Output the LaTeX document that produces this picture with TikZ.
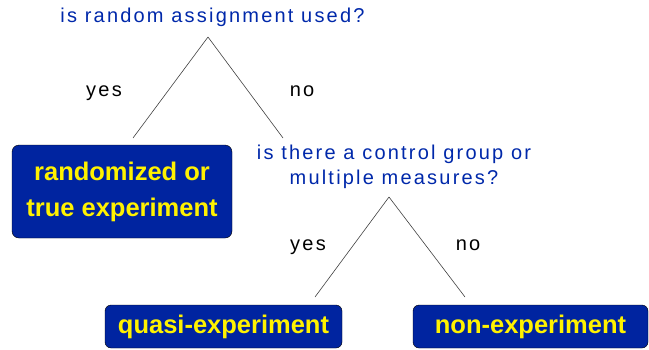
\documentclass[tikz,border=0pt]{standalone}
\usepackage{fontspec}
\setmainfont{Liberation Sans}
\newfontfamily\askfont[LetterSpace=11]{Liberation Sans}
\usetikzlibrary{positioning}
\definecolor{boxblue}{RGB}{0,36,160}
\definecolor{askblue}{RGB}{0,40,170}
\tikzset{
    question/.style={
        text=askblue,align=center,inner sep=0pt,
        font=\askfont\fontsize{20}{25}\selectfont
    },
    answer/.style={inner sep=0pt,anchor=base,font=\askfont\fontsize{20}{25}\selectfont},
    design box/.style={
        draw=black,thin,rounded corners=7pt,
        fill=boxblue,text=yellow,align=center,inner sep=0pt,
        font=\bfseries\fontsize{25.5}{36}\selectfont
    },
    branch/.style={black!75,line width=0.6pt}
}

\begin{document}
\begin{tikzpicture}[x=1pt,y=-1pt]
\useasboundingbox (0,0) rectangle (649,349);
% questions
\node[question] (q1) at (212.5,17) {is random assignment used?};
\node[question] (q2) at (394,167) {is there a control group or\\multiple measures?};
% outcomes
\node[design box,minimum width=220pt,minimum height=93pt] (true) at (122,191.5) {randomized or\\true experiment};
\node[design box,minimum width=237pt,minimum height=43pt,rounded corners=6pt] (quasi) at (223.5,326.5) {quasi-experiment};
\node[design box,minimum width=235pt,minimum height=43pt,rounded corners=6pt] (non) at (530.5,326.5) {non-experiment};
\foreach \n/\x/\y/\txt in {yes1/104/96.5/yes,no1/302/96.5/no,yes2/308/250.5/yes,no2/468/250.5/no}
    \node[answer] (\n) at (\x,\y) {\txt};
% branches
\coordinate (tip1) at (208,37);
\coordinate (tip2) at (389,197);
\coordinate (to true) at (133,138);
\coordinate (to q2) at (283,138);
\coordinate (to quasi) at (315,297);
\coordinate (to non) at (465,297);
\foreach \a/\b in {tip1/to true,tip1/to q2,tip2/to quasi,tip2/to non}
    \draw[branch] (\a) -- (\b);
\end{tikzpicture}
\end{document}
